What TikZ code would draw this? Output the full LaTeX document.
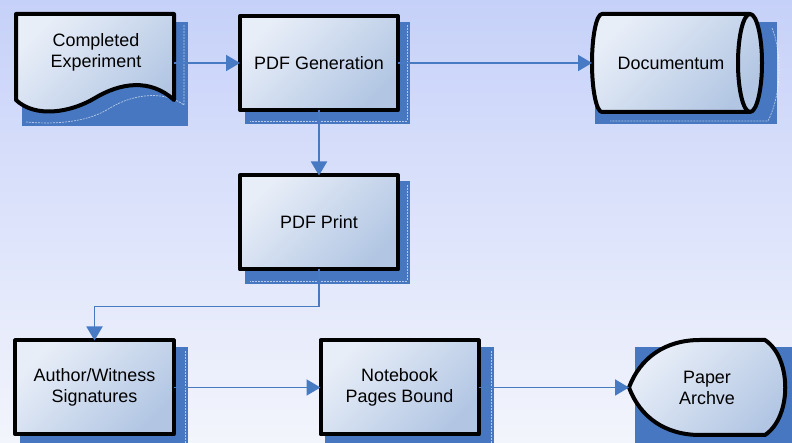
\documentclass[tikz,border=0pt]{standalone}
\usepackage{fontspec}
\setmainfont{Liberation Sans}
\usetikzlibrary{arrows.meta}

\definecolor{skytop}{RGB}{198,209,249}
\definecolor{skybot}{RGB}{243,245,252}
\definecolor{boxlight}{RGB}{232,238,248}
\definecolor{boxdark}{RGB}{178,198,227}
\definecolor{flowblue}{RGB}{72,122,196}
\definecolor{shadeblue}{RGB}{71,119,192}

\tikzset{
  stepfill/.style={shading=axis, top color=boxlight, bottom color=boxdark, shading angle=45},
  outline/.style={draw=black, line width=4bp, line join=round},
  label text/.style={align=center, font=\fontsize{18}{21}\selectfont},
  box/.style={stepfill, outline, rectangle, minimum width=158bp, minimum height=94bp, outer sep=0pt, label text},
  spot/.style={rectangle, outer sep=0pt, label text},
  drop/.style={fill=shadeblue},
  gleam/.style={draw=white, opacity=0.6, line width=0.7bp, dash pattern=on 2bp off 1bp},
  flow/.style={draw=flowblue, line width=1.9bp, -{Triangle[length=14bp, width=16bp]}},
}

\begin{document}
\begin{tikzpicture}[x=1bp, y=1bp]
    \clip (0,0) rectangle (792,443);
    % Backdrop
    \shade[top color=skytop, bottom color=skybot] (0,0) rectangle (792,443);

    % Drop shadows, top row
    \fill[drop] (22,317) rectangle (188,421);
    \fill[drop] (245,319) rectangle (410,421);
    \fill[drop] (595,319) rectangle (777,421);
    \draw[gleam] (26,321) .. controls (60,318) and (90,322) .. (110,335) .. controls (135,350) and (165,352) .. (184,338) -- (184,418);
    \draw[gleam] (407,418) -- (407,322) -- (250,322);
    \draw[gleam] (772,415) .. controls (782,390) and (782,350) .. (768,322) -- (610,322);
    % Drop shadow, middle row
    \fill[drop] (245,159) rectangle (410,262);
    \draw[gleam] (407,258) -- (407,162) -- (250,162);
    % Drop shadows, bottom row
    \fill[drop] (20,-8) rectangle (188,96);
    \fill[drop] (325,-8) rectangle (494,96);
    \fill[drop] (635,-8) rectangle (800,96);
    \draw[gleam] (185,92) -- (185,0);
    \draw[gleam] (491,92) -- (491,0);

    % Completed experiment, a torn sheet
    \shadedraw[stepfill, outline] (16,429) -- (174,429) -- (174,343)
        .. controls (150,365) and (120,360) .. (95,345)
        .. controls (70,330) and (35,325) .. (16,343) -- cycle;
    \node[spot, minimum width=158bp, minimum height=96bp] (exp) at (95,380) {};
    \node[spot] (exptext) at (96,391) {Completed\\Experiment};

    % PDF steps
    \node[box] (gen) at (319,380) {PDF Generation};
    \node[box] (print) at (319,220.5) {PDF Print};

    % Documentum store
    \shadedraw[stepfill, outline] (602,429) -- (750,429)
        arc[start angle=90, end angle=-90, x radius=12, y radius=49]
        -- (602,331) arc[start angle=270, end angle=90, x radius=10, y radius=49] -- cycle;
    \draw[outline] (750,429) arc[start angle=90, end angle=270, x radius=12, y radius=49];
    \node[spot, minimum width=158bp, minimum height=98bp] (doc) at (671,380) {Documentum};

    % Bottom row
    \node[box] (sig) at (94.5,55.5) {Author/Witness\\Signatures};
    \node[box] (bound) at (399.5,55.5) {Notebook\\Pages Bound};
    \shadedraw[stepfill, outline] (765,103) -- (700,103)
        .. controls (665,103) and (640,85) .. (629,55.5)
        .. controls (640,26) and (665,8) .. (700,8) -- (765,8)
        .. controls (792,26) and (792,85) .. (765,103) -- cycle;
    \node[spot, minimum width=156bp, minimum height=95bp] (arch) at (707,55.5) {Paper\\Archve};

    % Flow
    \draw[flow] (exp.east) -- (gen.west);
    \draw[flow] (gen.east) -- (doc.west);
    \draw[flow] (gen.south) -- (print.north);
    \draw[flow] (print.south) -- ++(0,-37) -| (sig.north);
    \draw[flow] (sig.east) -- (bound.west);
    \draw[flow] (bound.east) -- (arch.west);
\end{tikzpicture}
\end{document}
